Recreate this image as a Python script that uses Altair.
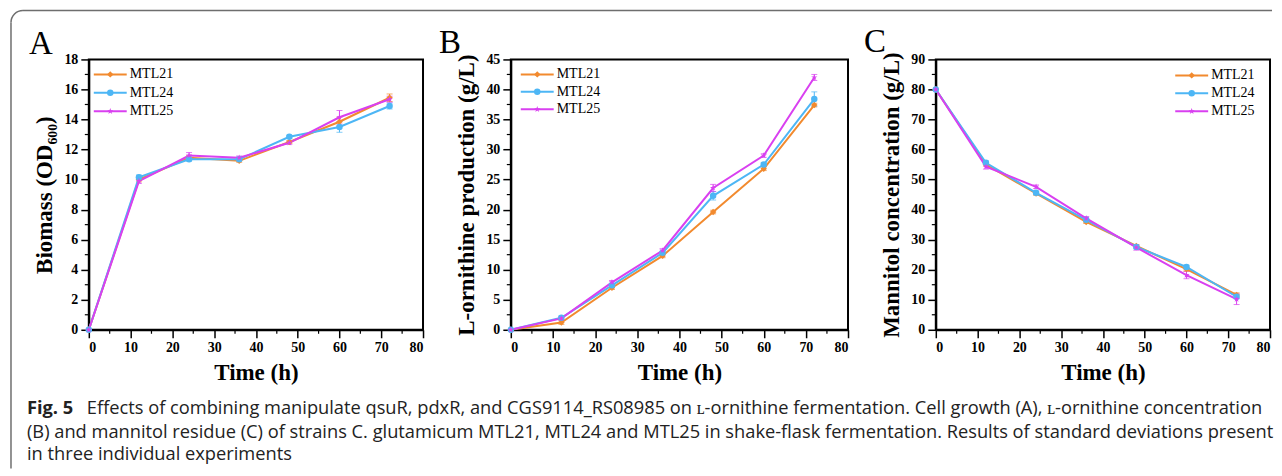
import altair as alt
import pandas as pd

# ---------------- data ----------------
times = [0, 12, 24, 36, 48, 60, 72]
series = ["MTL21", "MTL24", "MTL25"]
colors = ["#F28A2E", "#4DB6F5", "#D940F0"]
STAR = "M0,-1L0.235,-0.324L0.951,-0.309L0.38,0.124L0.588,0.809L0,0.4L-0.588,0.809L-0.38,0.124L-0.951,-0.309L-0.235,-0.324Z"
shapes = ["diamond", "circle", STAR]

biomass_mtl21 = [0, 10.0, 11.45, 11.25, 12.5, 13.85, 15.45]
biomass_mtl24 = [0, 10.15, 11.35, 11.35, 12.85, 13.5, 14.9]
biomass_mtl25 = [0, 9.9, 11.6, 11.45, 12.45, 14.15, 15.35]
biomass_sd21 = [0, 0.15, 0.15, 0.1, 0.1, 0.3, 0.25]
biomass_sd24 = [0, 0.15, 0.12, 0.1, 0.1, 0.35, 0.2]
biomass_sd25 = [0, 0.15, 0.2, 0.12, 0.1, 0.45, 0.2]

orn_mtl21 = [0, 1.2, 7.0, 12.3, 19.6, 26.8, 37.4]
orn_mtl24 = [0, 2.0, 7.4, 12.8, 22.3, 27.5, 38.4]
orn_mtl25 = [0, 1.9, 7.9, 13.2, 23.6, 29.0, 42.0]
orn_sd21 = [0, 0.3, 0.3, 0.3, 0.3, 0.3, 0.3]
orn_sd24 = [0, 0.3, 0.3, 0.3, 0.7, 0.3, 1.2]
orn_sd25 = [0, 0.3, 0.3, 0.3, 0.6, 0.3, 0.5]

man_mtl21 = [80, 55.0, 45.4, 35.9, 27.9, 20.2, 11.6]
man_mtl24 = [80, 55.6, 45.6, 36.6, 27.6, 20.9, 11.0]
man_mtl25 = [80, 54.3, 47.6, 37.1, 27.4, 18.2, 10.2]
man_sd21 = [0, 0.5, 0.6, 0.5, 0.5, 0.6, 0.7]
man_sd24 = [0, 0.6, 0.5, 0.5, 0.5, 0.6, 0.7]
man_sd25 = [0, 0.8, 0.6, 0.6, 0.9, 1.2, 1.8]

x_ticks = [0, 10, 20, 30, 40, 50, 60, 70, 80]
x_minor = [5, 15, 25, 35, 45, 55, 65, 75]

cap1_bold = "Fig. 5"
cap1 = ("Effects of combining manipulate qsuR, pdxR, and CGS9114_RS08985 on "
        "ʟ-ornithine fermentation. Cell growth (A), ʟ-ornithine concentration")
cap2 = ("(B) and mannitol residue (C) of strains C. glutamicum MTL21, MTL24 and MTL25 "
        "in shake-flask fermentation. Results of standard deviations present")
cap3 = "in three individual experiments"

SERIF = "Liberation Serif"
CAPFONT = "Open Sans"
CAPSIZE = 18.3
H = 271


def long_df(vals, sds):
    rows = []
    for s, v_list, e_list in zip(series, vals, sds):
        for t, v, e in zip(times, v_list, e_list):
            rows.append({"time": t, "series": s, "value": v, "lo": v - e, "hi": v + e})
    return pd.DataFrame(rows)


color = alt.Color("series:N", scale=alt.Scale(domain=series, range=colors), legend=None)
shape = alt.Shape("series:N", scale=alt.Scale(domain=series, range=shapes), legend=None)


def panel(df, ymax, ystep, yminor, ytitle, letter, letter_pos, leg_x, leg_rows, width):
    xs = alt.Scale(domain=[0, 80], nice=False, zero=False)
    ys = alt.Scale(domain=[0, ymax], nice=False)
    xaxis = alt.Axis(values=x_ticks, title="Time (h)")
    yaxis = alt.Axis(values=list(range(0, ymax + 1, ystep)), title=ytitle)
    x = alt.X("time:Q", scale=xs, axis=xaxis)
    base = alt.Chart(df)
    err = base.mark_rule(strokeWidth=1).encode(
        x=x, y=alt.Y("lo:Q", scale=ys, axis=yaxis), y2="hi:Q", color=color)
    cap_hi = base.mark_tick(orient="horizontal", size=6, thickness=1).encode(
        x=x, y=alt.Y("hi:Q", scale=ys, axis=yaxis), color=color)
    cap_lo = base.mark_tick(orient="horizontal", size=6, thickness=1).encode(
        x=x, y=alt.Y("lo:Q", scale=ys, axis=yaxis), color=color)
    line = base.mark_line(strokeWidth=2).encode(
        x=x, y=alt.Y("value:Q", scale=ys, axis=yaxis), color=color)
    pts = base.mark_point(filled=True, size=42, opacity=1).encode(
        x=x, y=alt.Y("value:Q", scale=ys, axis=yaxis), color=color, shape=shape)
    mx = alt.Chart(pd.DataFrame({"t": x_minor})).mark_rule(color="black", strokeWidth=1.2).encode(
        x=alt.X("t:Q", scale=xs, axis=xaxis), y=alt.value(H), y2=alt.value(H + 4))
    my = alt.Chart(pd.DataFrame({"v": yminor})).mark_rule(color="black", strokeWidth=1.2).encode(
        y=alt.Y("v:Q", scale=ys, axis=yaxis), x=alt.value(-4), x2=alt.value(0))
    data_layer = alt.layer(err, cap_hi, cap_lo, line, pts, mx, my)

    leg_df = pd.DataFrame({"series": series, "row": [0, 1, 2]})
    ly = alt.Y("row:Q", scale=alt.Scale(domain=[0, 2], range=list(leg_rows)), axis=None)
    lb = alt.Chart(leg_df)
    l_rule = lb.mark_rule(strokeWidth=2).encode(
        x=alt.value(leg_x), x2=alt.value(leg_x + 33), y=ly, color=color)
    l_pt = lb.mark_point(filled=True, size=42, opacity=1).encode(
        x=alt.value(leg_x + 16.5), y=ly, color=color, shape=shape)
    l_txt = lb.mark_text(align="left", baseline="middle", font=SERIF, fontSize=14,
                         color="black").encode(x=alt.value(leg_x + 36), y=ly, text="series:N")
    legend_layer = alt.layer(l_rule, l_pt, l_txt)

    one = pd.DataFrame({"k": [0]})
    let = alt.Chart(one).mark_text(text=letter, font=SERIF, fontSize=33, align="center",
                                   baseline="alphabetic", color="black").encode(
        x=alt.value(letter_pos[0]), y=alt.value(letter_pos[1]))
    return alt.layer(data_layer, legend_layer, let).resolve_scale(y="independent").properties(
        width=width, height=H)


dfA = long_df([biomass_mtl21, biomass_mtl24, biomass_mtl25], [biomass_sd21, biomass_sd24, biomass_sd25])
dfB = long_df([orn_mtl21, orn_mtl24, orn_mtl25], [orn_sd21, orn_sd24, orn_sd25])
dfC = long_df([man_mtl21, man_mtl24, man_mtl25], [man_sd21, man_sd24, man_sd25])

A = panel(dfA, 18, 2, [1, 3, 5, 7, 9, 11, 13, 15, 17], "Biomass (OD₆₀₀)", "A", (-48, -5), 5, (15, 52), 335)
B = panel(dfB, 45, 5, [2.5, 7.5, 12.5, 17.5, 22.5, 27.5, 32.5, 37.5, 42.5],
          "L-ornithine production (g/L)", "B", (-61, -6), 10, (15, 50), 338)
C = panel(dfC, 90, 10, [5, 15, 25, 35, 45, 55, 65, 75, 85],
          "Mannitol concentration (g/L)", "C", (-61, -7), 240, (16, 52), 335)

# figure frame and caption (drawn relative to panel A's plot area)
one = pd.DataFrame({"k": [0]})
FR = "#6E6E6E"
frame_top = alt.Chart(one).mark_rule(color=FR, strokeWidth=1.5).encode(
    x=alt.value(-66), x2=alt.value(1186), y=alt.value(-49))
frame_left = alt.Chart(one).mark_rule(color=FR, strokeWidth=1.5).encode(
    x=alt.value(-78), y=alt.value(-37), y2=alt.value(410))
frame_arc = alt.Chart(one).mark_arc(color=FR, radius=12.75, radius2=11.25,
                                    theta=4.7124, theta2=6.2832).encode(
    x=alt.value(-66), y=alt.value(-37))
c1b = alt.Chart(one).mark_text(text=cap1_bold, font=CAPFONT, fontSize=CAPSIZE, fontWeight="bold",
                               align="left", baseline="alphabetic", color="#222222").encode(
    x=alt.value(-62), y=alt.value(355))
c1 = alt.Chart(one).mark_text(text=cap1, font=CAPFONT, fontSize=CAPSIZE, align="left",
                              baseline="alphabetic", color="#222222").encode(
    x=alt.value(-2), y=alt.value(355))
c2 = alt.Chart(one).mark_text(text=cap2, font=CAPFONT, fontSize=CAPSIZE, align="left",
                              baseline="alphabetic", color="#222222").encode(
    x=alt.value(-62), y=alt.value(379))
c3 = alt.Chart(one).mark_text(text=cap3, font=CAPFONT, fontSize=CAPSIZE, align="left",
                              baseline="alphabetic", color="#222222").encode(
    x=alt.value(-62), y=alt.value(402))

A_full = alt.layer(A, frame_top, frame_left, frame_arc, c1b, c1, c2, c3)

chart = alt.hconcat(A_full, B, C, spacing=88, bounds="flush").properties(
    padding={"left": 1, "top": 0, "right": 0, "bottom": 0},
    background="white",
).configure_view(stroke="black", strokeWidth=2).configure_axis(
    labelFont=SERIF, labelFontWeight="bold", labelFontSize=14, labelColor="black",
    titleFont=SERIF, titleFontWeight="bold", titleFontSize=23, titleColor="black",
    tickColor="black", tickSize=8, tickWidth=1.5, domainColor="black", domainWidth=2,
    grid=False, labelPadding=3, titlePadding=7,
)

chart.save("out.html", embed_options={"renderer": "svg", "actions": False})
